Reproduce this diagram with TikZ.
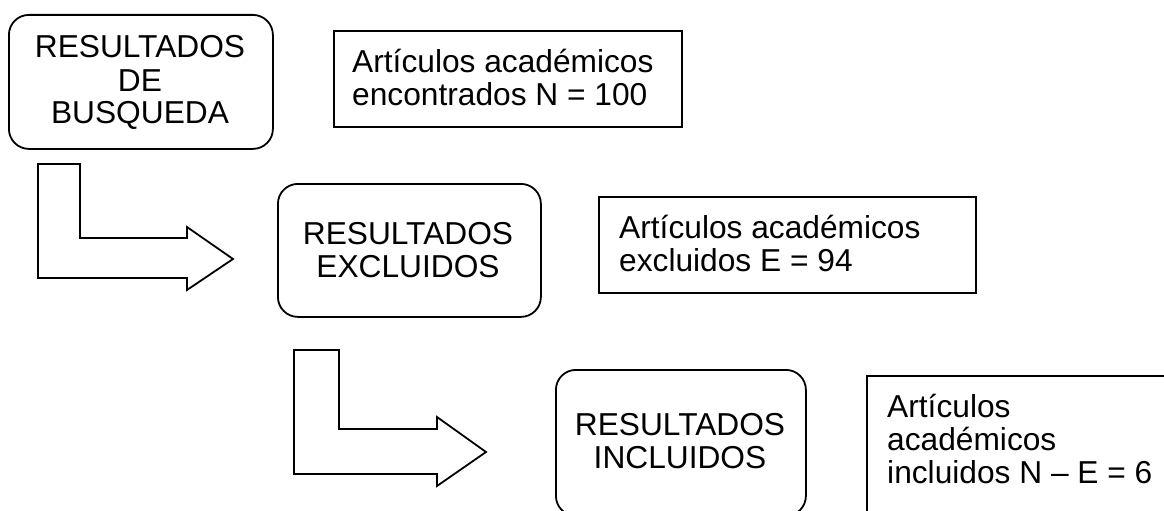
\documentclass[tikz,border=0pt]{standalone}
\usepackage{fontspec}
\setmainfont{Liberation Sans}
\begin{document}
\begin{tikzpicture}[x=1pt,y=-1pt,
  every node/.style={font=\fontsize{31.7}{33}\selectfont, inner sep=0pt},
  roundbox/.style={draw, line width=1.8pt, rounded corners=20pt, anchor=north west},
  infobox/.style={draw, line width=1.8pt, anchor=north west},
  blockarrow/.style={draw, line width=1.8pt, line join=miter},
  txt/.style={anchor=base}]
\useasboundingbox (0,0) rectangle (1164,511);
\clip (0,0) rectangle (1164,511);
% rounded boxes
\node[roundbox, minimum width=264pt, minimum height=134pt] (b1) at (8,14) {};
\node[txt] (t1) at (140,58) {\begin{tabular}[t]{@{}c@{}}RESULTADOS\\DE\\BUSQUEDA\end{tabular}};
\node[roundbox, minimum width=263pt, minimum height=133pt] (b2) at (277,183) {};
\node[txt] (t2) at (408,244) {\begin{tabular}[t]{@{}c@{}}RESULTADOS\\EXCLUIDOS\end{tabular}};
\node[roundbox, minimum width=250pt, minimum height=146pt] (b3) at (555,369) {};
\node[txt] (t3) at (680,435) {\begin{tabular}[t]{@{}c@{}}RESULTADOS\\INCLUIDOS\end{tabular}};
% info boxes
\node[infobox, minimum width=348pt, minimum height=96pt] (i1) at (333,30) {};
\node[anchor=base west] (s1) at (352,72) {\begin{tabular}[t]{@{}l@{}}Artículos académicos\\encontrados N = 100\end{tabular}};
\node[infobox, minimum width=377pt, minimum height=96pt] (i2) at (598,196) {};
\node[anchor=base west] (s2) at (619,238) {\begin{tabular}[t]{@{}l@{}}Artículos académicos\\excluidos E = 94\end{tabular}};
\node[infobox, minimum width=340pt, minimum height=170pt] (i3) at (866,375) {};
\node[anchor=base west] (s3) at (887,417) {\begin{tabular}[t]{@{}l@{}}Artículos\\académicos\\incluidos N – E = 6\end{tabular}};
% block arrows
\draw[blockarrow] (38,164) -- (80,164) -- (80,238) -- (187,238) -- (187,227) -- (233,259) -- (187,290) -- (187,278) -- (38,278) -- cycle;
\draw[blockarrow] (294,350) -- (339,350) -- (339,429) -- (437,429) -- (437,417) -- (486,452) -- (437,486) -- (437,474) -- (294,474) -- cycle;
\end{tikzpicture}
\end{document}
